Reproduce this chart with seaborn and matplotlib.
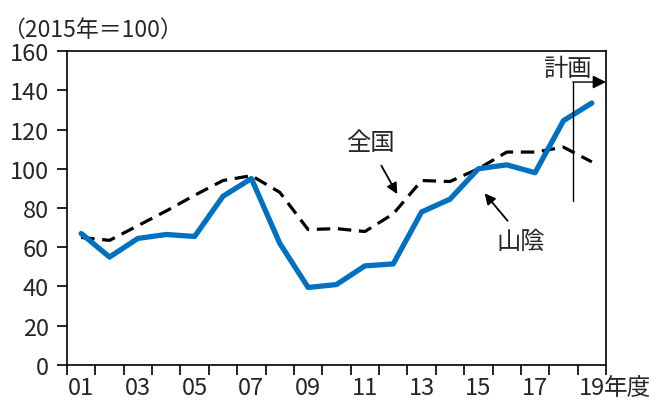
import matplotlib
matplotlib.use("Agg")
import matplotlib.pyplot as plt
import seaborn as sns
import pandas as pd
import numpy as np

# Fiscal years 2001-2019, index (2015 = 100)
years = list(range(2001, 2020))
sanin = [67, 55, 64.5, 66.5, 65.5, 86, 95, 62, 39.5, 41, 50.5, 51.5, 78, 84.5, 100, 102, 98, 124.5, 133.5]
zenkoku = [65, 63.5, 71, 78.5, 86.5, 94, 96.5, 88, 69, 69.5, 68, 77, 94, 93.5, 100, 108.5, 108.5, 111, 103.5]
tick_labels = ["01", "03", "05", "07", "09", "11", "13", "15", "17", "19"]

sns.set_style("white")
plt.rcParams["font.family"] = ["Noto Sans CJK JP", "DejaVu Sans"]

FS = 17        # tick labels
FS_JP = 17.5   # kanji labels

pos = np.arange(len(years))
df = pd.DataFrame({"pos": pos, "山陰": sanin, "全国": zenkoku})

fig = plt.figure(figsize=(6.58, 4.02), dpi=100)
ax = fig.add_axes([0.1018, 0.0896, 0.8192, 0.781])

sns.lineplot(data=df, x="pos", y="全国", ax=ax, color="black", linewidth=2.3)
ax.lines[-1].set_dashes([4.2, 2.4])
sns.lineplot(data=df, x="pos", y="山陰", ax=ax, color="#0070C0", linewidth=3.8)

ax.set_xlim(-0.5, len(years) - 0.5)
ax.set_ylim(0, 160)
ax.set_yticks(range(0, 161, 20))
ax.set_xlabel("")
ax.set_ylabel("")

# category boundaries as major ticks, labels on every other year
ax.set_xticks(np.arange(-0.5, len(years), 1.0))
ax.set_xticklabels([])
ax.set_xticks(pos[::2], minor=True)
ax.set_xticklabels(tick_labels, minor=True)
ax.tick_params(axis="x", which="major", direction="out", length=7, width=1.2, color="black")
ax.tick_params(axis="x", which="minor", length=0, labelsize=FS, pad=8)
ax.tick_params(axis="y", direction="out", length=7, width=1.2, color="black", labelsize=FS, pad=6)
ax.tick_params(bottom=True, left=True)

for s in ax.spines.values():
    s.set_visible(True)
    s.set_color("black")
    s.set_linewidth(1.2)

# unit after the last year label
ax.annotate("年度", xy=(18, 0), xycoords=("data", "axes fraction"),
            xytext=(9.0, -8), textcoords="offset points",
            fontsize=FS, ha="left", va="top", annotation_clip=False)
fig.text(0.003, 0.925, "（2015年＝100）", fontsize=16.5, ha="left", va="center")

# series labels with arrows
ax.text(10.2, 113.5, "全国", fontsize=FS_JP, ha="center", va="center")
ax.annotate("", xy=(11.14, 87.1), xytext=(10.58, 101.6),
            arrowprops=dict(arrowstyle="-|>", color="black", lw=1.3,
                            mutation_scale=16, shrinkA=0, shrinkB=0))
ax.text(15.49, 63.3, "山陰", fontsize=FS_JP, ha="center", va="center")
ax.annotate("", xy=(14.22, 87.5), xytext=(15.03, 73.5),
            arrowprops=dict(arrowstyle="-|>", color="black", lw=1.3,
                            mutation_scale=16, shrinkA=0, shrinkB=0))

# plan period marker
ax.plot([17.33, 17.33], [83.7, 144.2], color="black", lw=1.0)
ax.annotate("", xy=(18.5, 144.2), xytext=(17.33, 144.2),
            arrowprops=dict(arrowstyle="-|>", color="black", lw=1.0,
                            mutation_scale=20, shrinkA=0, shrinkB=0))
ax.text(17.14, 151.6, "計画", fontsize=FS_JP, ha="center", va="center")

fig.savefig("out.png", dpi=100)
